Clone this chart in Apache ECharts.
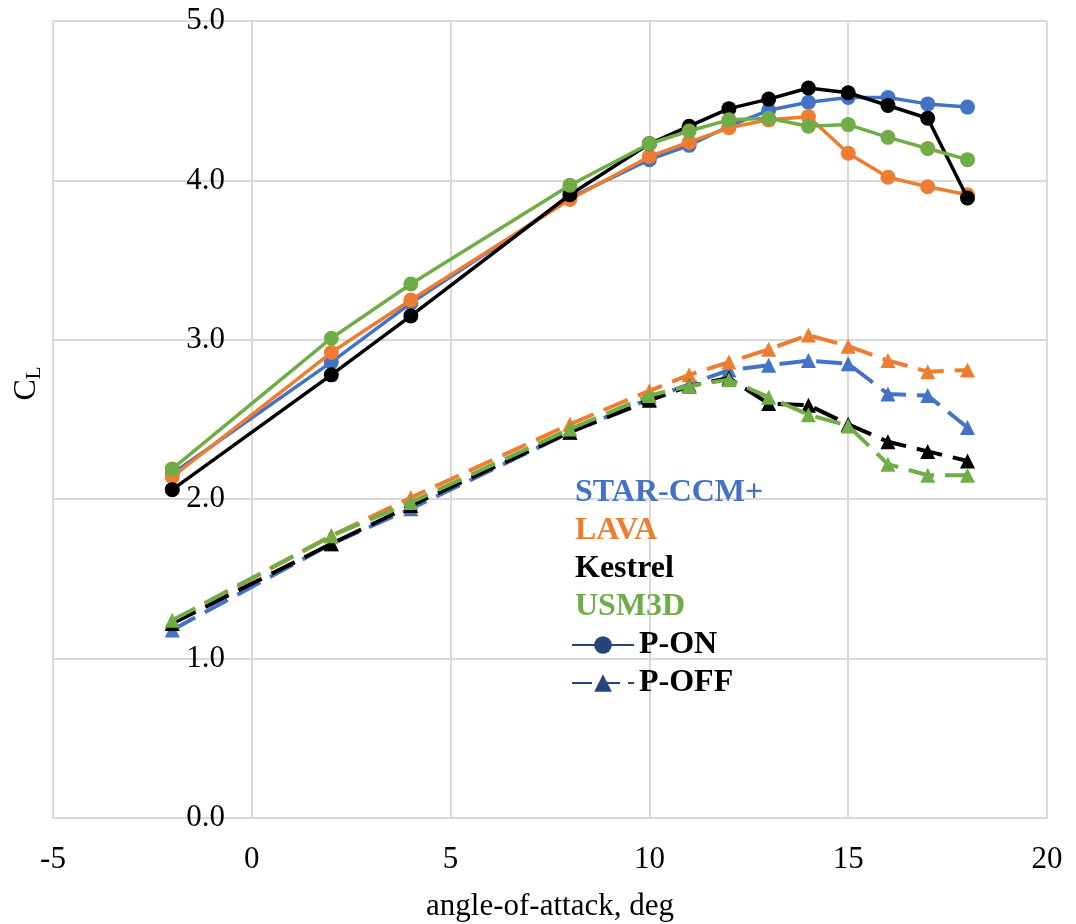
<!DOCTYPE html>
<html>
<head>
<meta charset="utf-8">
<script src="https://cdn.jsdelivr.net/npm/echarts@6/dist/echarts.min.js"></script>
<style>
html,body{margin:0;padding:0;background:#fff;}
#chart{width:1076px;height:924px;}
</style>
</head>
<body>
<div id="chart"></div>
<script>
// angle-of-attack (deg)
const aoa = [-2, 2, 4, 8, 10, 11, 12, 13, 14, 15, 16, 17, 18];

// P-ON (circles, solid)
const starOn    = [2.16, 2.86, 3.23, 3.89, 4.13, 4.22, 4.34, 4.44, 4.49, 4.52, 4.52, 4.48, 4.46];
const lavaOn    = [2.14, 2.92, 3.25, 3.88, 4.15, 4.24, 4.33, 4.38, 4.40, 4.17, 4.02, 3.96, 3.91];
const kestrelOn = [2.06, 2.78, 3.15, 3.91, 4.23, 4.34, 4.45, 4.51, 4.58, 4.55, 4.47, 4.39, 3.89];
const usmOn     = [2.19, 3.01, 3.35, 3.97, 4.23, 4.31, 4.38, 4.39, 4.34, 4.35, 4.27, 4.20, 4.13];

// P-OFF (triangles, dashed)
const starOff    = [1.18, 1.72, 1.94, 2.42, 2.63, 2.72, 2.81, 2.84, 2.87, 2.85, 2.66, 2.65, 2.45];
const lavaOff    = [1.23, 1.77, 2.01, 2.47, 2.68, 2.78, 2.86, 2.94, 3.03, 2.96, 2.87, 2.80, 2.81];
const kestrelOff = [1.22, 1.72, 1.96, 2.42, 2.62, 2.71, 2.76, 2.60, 2.59, 2.47, 2.36, 2.30, 2.24];
const usmOff     = [1.24, 1.77, 1.98, 2.44, 2.65, 2.71, 2.75, 2.64, 2.53, 2.46, 2.22, 2.15, 2.15];

const codes = ['STAR-CCM+', 'LAVA', 'Kestrel', 'USM3D'];
const colors = ['#4472C4', '#ED7D31', '#000000', '#70AD47'];
const onData = [starOn, lavaOn, kestrelOn, usmOn];
const offData = [starOff, lavaOff, kestrelOff, usmOff];

const xTicks = { min: -5, max: 20, interval: 5 };
const yTicks = { min: 0, max: 5, interval: 1 };

const FONT = "'Liberation Serif', 'Times New Roman', serif";
const pair = (ys) => aoa.map((x, i) => [x, ys[i]]);

const series = [];
codes.forEach((c, i) => {
  series.push({
    name: c + ' P-ON', type: 'line', data: pair(onData[i]),
    symbol: 'circle', symbolSize: 15, showSymbol: true,
    lineStyle: { color: colors[i], width: 3.5 },
    itemStyle: { color: colors[i] },
    z: 3 + i, animation: false
  });
});
codes.forEach((c, i) => {
  series.push({
    name: c + ' P-OFF', type: 'line', data: pair(offData[i]),
    symbol: 'triangle', symbolSize: 15, showSymbol: true,
    lineStyle: { color: colors[i], width: 4, type: [26, 11] },
    itemStyle: { color: colors[i] },
    z: 3 + i, animation: false
  });
});
// legend-only series
codes.forEach((c, i) => {
  series.push({ name: c, type: 'line', data: [], itemStyle: { color: colors[i] } });
});
series.push({ name: 'P-ON', type: 'line', data: [], symbol: 'circle', symbolSize: 22,
  lineStyle: { color: '#264478', width: 3 }, itemStyle: { color: '#264478' } });
series.push({ name: 'P-OFF', type: 'line', data: [], symbol: 'triangle', symbolSize: 22,
  lineStyle: { color: '#264478', width: 3, type: [20, 8] }, itemStyle: { color: '#264478' } });

const chart = echarts.init(document.getElementById('chart'), null, { renderer: 'canvas' });
chart.setOption({
  backgroundColor: '#ffffff',
  animation: false,
  textStyle: { fontFamily: FONT },
  grid: { left: 53, right: 29, top: 21, bottom: 106, containLabel: false, outerBoundsMode: 'none' },
  xAxis: {
    type: 'value', min: xTicks.min, max: xTicks.max, interval: xTicks.interval,
    name: 'angle-of-attack, deg', nameLocation: 'middle', nameGap: 73,
    nameTextStyle: { fontFamily: FONT, fontSize: 31, color: '#000' },
    axisLine: { show: true, onZero: true, lineStyle: { color: '#d9d9d9', width: 2 } },
    axisTick: { show: false },
    axisLabel: { fontFamily: FONT, fontSize: 31, color: '#000', margin: 26 },
    splitLine: { show: true, lineStyle: {
      color: ['#d9d9d9', '#bdbdbd', '#d9d9d9', '#d9d9d9', '#d9d9d9', '#d9d9d9'], width: 2 } }
  },
  yAxis: {
    type: 'value', min: yTicks.min, max: yTicks.max, interval: yTicks.interval,
    name: '{c|C}{s|L}', nameLocation: 'middle', nameGap: 9, nameRotate: 90,
    nameTextStyle: {
      fontFamily: FONT, color: '#000', padding: [0, 0, 0, 72],
      rich: {
        c: { fontFamily: FONT, fontSize: 32, color: '#000', lineHeight: 34 },
        s: { fontFamily: FONT, fontSize: 21, color: '#000', lineHeight: 34, padding: [14, 0, 0, 0] }
      }
    },
    axisLine: { show: true, onZero: true, lineStyle: { color: '#d9d9d9', width: 2 } },
    axisTick: { show: false },
    axisLabel: { fontFamily: FONT, fontSize: 31, color: '#000', margin: -172, align: 'right',
      formatter: (v) => v.toFixed(1) },
    splitLine: { show: true, lineStyle: { color: '#d9d9d9', width: 2 } }
  },
  legend: [
    {
      orient: 'vertical', left: 570, top: 477, padding: 0,
      itemWidth: 0, itemHeight: 10, itemGap: 6, icon: 'none',
      selectedMode: false,
      data: codes.map((c, i) => ({ name: c, icon: 'none',
        textStyle: { color: colors[i], fontFamily: FONT, fontSize: 32, fontWeight: 'bold', lineHeight: 32 } })),
      textStyle: { fontFamily: FONT, fontSize: 32, fontWeight: 'bold' }
    },
    {
      orient: 'vertical', left: 571, top: 629, padding: 0,
      itemWidth: 62, itemHeight: 22, itemGap: 6,
      selectedMode: false,
      data: ['P-ON', 'P-OFF'],
      textStyle: { fontFamily: FONT, fontSize: 32, fontWeight: 'bold', color: '#000', lineHeight: 32 }
    }
  ],
  series: series
});
</script>
</body>
</html>
